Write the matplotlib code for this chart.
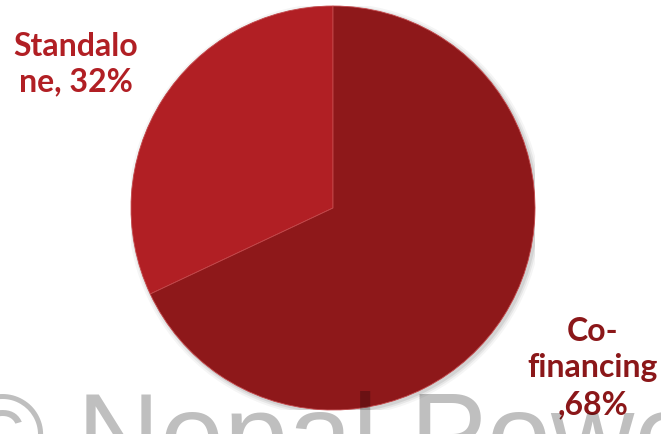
import matplotlib.pyplot as plt
from matplotlib.patches import Circle

# data
labels = ['Standalo\nne, 32%', 'Co-\nfinancing\n,68%']
shares = [32, 68]
colors = ['#B11F24', '#8E181A']
label_colors = ['#B11F24', '#8B1719']

W, H = 661, 435
fig = plt.figure(figsize=(W / 100, H / 100), dpi=100)
fig.patch.set_facecolor('white')

# pie axes: centre ~ (333, 209) px, radius ~ 202 px
cx, cy, r = 333, 209, 202
ax = fig.add_axes([(cx - r) / W, (H - cy - r) / H, 2 * r / W, 2 * r / H])
ax.set_xlim(-1, 1)
ax.set_ylim(-1, 1)

# soft shadow
for k, a in [(1.025, 0.04), (1.015, 0.06), (1.006, 0.08)]:
    ax.add_patch(Circle((0.01, -0.01), k, color='black', alpha=a, lw=0, zorder=0))

ax.pie(shares, startangle=90, counterclock=True, colors=colors, radius=1,
       wedgeprops=dict(linewidth=0.6, edgecolor='#C4484B'))
ax.set_xlim(-1, 1)
ax.set_ylim(-1, 1)
ax.set_aspect('auto')
ax.axis('off')

fig.text(76 / W, 1 - 64 / H, labels[0], ha='center', va='center', fontsize=23,
         fontweight='bold', family='Lato', color=label_colors[0], linespacing=1.25)
fig.text(593 / W, 1 - 368 / H, labels[1], ha='center', va='center', fontsize=23,
         fontweight='bold', family='Lato', color=label_colors[1], linespacing=1.32)

# watermark (runs off the bottom and right edges, as in the source)
fig.text(-40 / W, 1 - 474 / H, '\u00a9 Nepal Power', ha='left', va='baseline',
         fontsize=83, family='Liberation Sans', color='black', alpha=0.25)

fig.savefig('out.png', dpi=100)
